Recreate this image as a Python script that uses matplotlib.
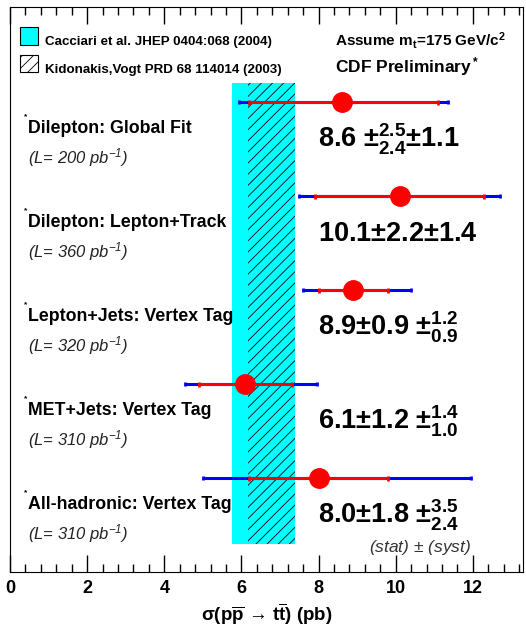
import matplotlib
matplotlib.use("Agg")
import matplotlib.pyplot as plt
from matplotlib.patches import Rectangle
from matplotlib.ticker import MultipleLocator

plt.rcParams['font.family'] = ['Liberation Sans', 'DejaVu Sans']
plt.rcParams['mathtext.default'] = 'regular'
plt.rcParams['hatch.linewidth'] = 0.6

# measurements, top to bottom
channels = ["Dilepton: Global Fit", "Dilepton: Lepton+Track",
            "Lepton+Jets: Vertex Tag", "MET+Jets: Vertex Tag",
            "All-hadronic: Vertex Tag"]
lumis = ["200", "360", "320", "310", "310"]
xsec = [8.6, 10.1, 8.9, 6.1, 8.0]
stat_lo = [2.4, 2.2, 0.9, 1.2, 1.8]
stat_hi = [2.5, 2.2, 0.9, 1.2, 1.8]
tot_lo = [2.65, 2.6, 1.3, 1.55, 3.0]
tot_hi = [2.75, 2.6, 1.5, 1.85, 3.95]
result_txt = [r"8.6 $\pm^{2.5}_{2.4}$$\pm$1.1",
              r"10.1$\pm$2.2$\pm$1.4",
              r"8.9$\pm$0.9 $\pm^{1.2}_{0.9}$",
              r"6.1$\pm$1.2 $\pm^{1.4}_{1.0}$",
              r"8.0$\pm$1.8 $\pm^{3.5}_{2.4}$"]

# theory bands
cacciari = (5.75, 7.38)
kidonakis = (6.17, 7.38)

rows = [5, 4, 3, 2, 1]

fig = plt.figure(figsize=(5.26, 6.32), dpi=100)
ax = fig.add_axes([10/526, 1-572/632, 513/526, 565/632])
ax.set_xlim(0, 13.3)
ax.set_ylim(0, 6.01)

# bands
ax.add_patch(Rectangle((cacciari[0], 0.30), cacciari[1]-cacciari[0], 4.9,
                       facecolor='#00ffff', edgecolor='none', zorder=1))
ax.add_patch(Rectangle((kidonakis[0], 0.30), kidonakis[1]-kidonakis[0], 4.9,
                       facecolor='none', edgecolor='black', hatch='///',
                       linewidth=0, zorder=2))

# error bars
ax.errorbar(xsec, rows, xerr=[tot_lo, tot_hi], fmt='none', ecolor='#0000ff',
            elinewidth=2.2, capsize=1.5, capthick=2, zorder=3)
ax.errorbar(xsec, rows, xerr=[stat_lo, stat_hi], fmt='none', ecolor='#ff0000',
            elinewidth=2.2, capsize=1.8, capthick=2, zorder=4)
ax.plot(xsec, rows, 'o', color='#ff0000', markersize=14, zorder=5)

for y, name, lum, res in zip(rows, channels, lumis, result_txt):
    ax.text(0.47, y - 0.28, name, fontsize=12.8, fontweight='bold', va='center')
    ax.text(0.36, y - 0.16, '*', fontsize=6, fontweight='bold', va='center')
    ax.text(0.47, y - 0.59, r"(L= %s pb$^{-1}$)" % lum, fontsize=12,
            style='italic', va='center', color='#222222')
    ax.text(7.98, y - 0.40, res, fontsize=19.5, fontweight='bold',
            ha='left', va='center')

ax.text(10.62, 0.26, r"(stat) $\pm$ (syst)", fontsize=12.5, style='italic',
        ha='center', va='center', color='#333333')

# legend
ax.add_patch(Rectangle((0.0195, 0.933), 0.035, 0.032, transform=ax.transAxes,
                       facecolor='#00ffff', edgecolor='black', lw=0.8))
ax.add_patch(Rectangle((0.0195, 0.885), 0.035, 0.030, transform=ax.transAxes,
                       facecolor='white', edgecolor='black', hatch='///', lw=0.8))
ax.text(0.068, 0.932, "Cacciari et al. JHEP 0404:068 (2004)", transform=ax.transAxes,
        fontsize=9.6, fontweight='bold', va='baseline')
ax.text(0.068, 0.884, "Kidonakis,Vogt PRD 68 114014 (2003)", transform=ax.transAxes,
        fontsize=9.6, fontweight='bold', va='baseline')
ax.text(0.634, 0.932, r"Assume m$_t$=175 GeV/c$^2$", transform=ax.transAxes,
        fontsize=11, fontweight='bold', va='baseline')
ax.text(0.634, 0.884, r"CDF Preliminary$^*$", transform=ax.transAxes,
        fontsize=12.5, fontweight='bold', va='baseline')

# axes styling
ax.xaxis.set_major_locator(MultipleLocator(2))
ax.xaxis.set_minor_locator(MultipleLocator(0.4))
ax.tick_params(axis='x', which='both', direction='in', top=True, bottom=True)
ax.tick_params(axis='x', which='major', length=12, width=1, pad=6, labelsize=13)
ax.tick_params(axis='x', which='minor', length=6, width=1)
ax.tick_params(axis='y', left=False, labelleft=False)
for lab in ax.get_xticklabels():
    lab.set_fontweight('bold')
ax.set_xlabel("$\\sigma$(p$\\overline{p}$ \u2192 t$\\overline{t}$) (pb)",
              fontsize=13.5, fontweight='bold', labelpad=3)

fig.savefig("out.png", dpi=100)
